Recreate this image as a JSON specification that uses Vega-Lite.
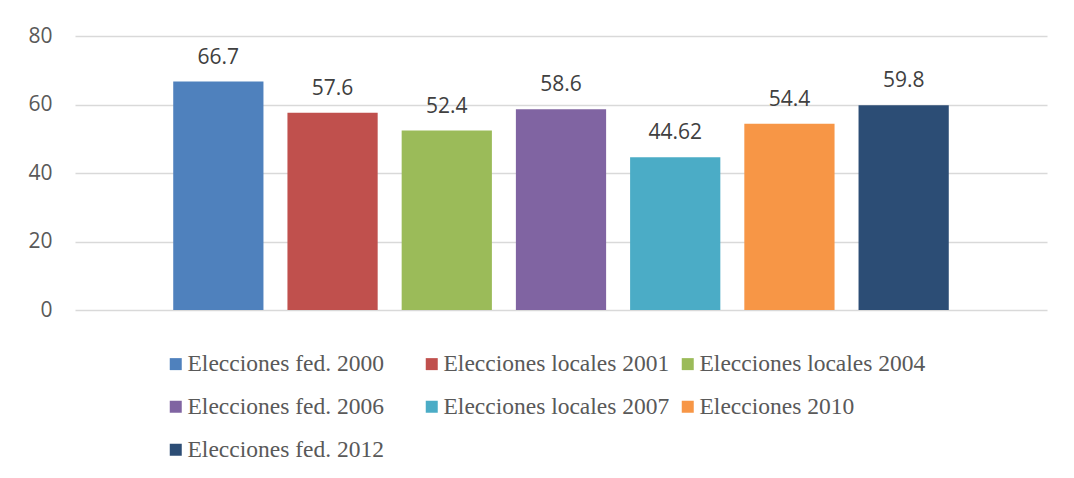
{
  "$schema": "https://vega.github.io/schema/vega-lite/v6.json",
  "width": 972,
  "height": 274,
  "autosize": "none",
  "padding": {"left": 75, "top": 36, "right": 27, "bottom": 168},
  "background": "white",
  "data": {
    "values": [
      {"serie": "Elecciones fed. 2000", "orden": 1, "valor": 66.7, "etiqueta": "66.7"},
      {"serie": "Elecciones locales 2001", "orden": 2, "valor": 57.6, "etiqueta": "57.6"},
      {"serie": "Elecciones locales 2004", "orden": 3, "valor": 52.4, "etiqueta": "52.4"},
      {"serie": "Elecciones fed. 2006", "orden": 4, "valor": 58.6, "etiqueta": "58.6"},
      {"serie": "Elecciones locales 2007", "orden": 5, "valor": 44.62, "etiqueta": "44.62"},
      {"serie": "Elecciones 2010", "orden": 6, "valor": 54.4, "etiqueta": "54.4"},
      {"serie": "Elecciones fed. 2012", "orden": 7, "valor": 59.8, "etiqueta": "59.8"}
    ]
  },
  "encoding": {
    "x": {
      "field": "serie",
      "type": "nominal",
      "sort": {"field": "orden"},
      "axis": null,
      "scale": {"paddingInner": 0.21, "paddingOuter": 0.86}
    },
    "y": {
      "field": "valor",
      "type": "quantitative",
      "scale": {"domain": [0, 80], "nice": false},
      "axis": {
        "title": null,
        "values": [0, 20, 40, 60, 80],
        "domain": false,
        "ticks": false,
        "labelPadding": 23,
        "labelFont": "Open Sans",
        "labelFontSize": 21,
        "labelColor": "#595959",
        "gridColor": "#D9D9D9",
        "gridWidth": 1.3
      }
    }
  },
  "layer": [
    {
      "mark": {"type": "bar"},
      "encoding": {
        "color": {
          "field": "serie",
          "type": "nominal",
          "sort": {"field": "orden"},
          "scale": {
            "domain": [
              "Elecciones fed. 2000",
              "Elecciones locales 2001",
              "Elecciones locales 2004",
              "Elecciones fed. 2006",
              "Elecciones locales 2007",
              "Elecciones 2010",
              "Elecciones fed. 2012"
            ],
            "range": ["#4F81BD", "#C0504D", "#9BBB59", "#8064A2", "#4BACC6", "#F79646", "#2C4D75"]
          },
          "legend": {
            "title": null,
            "orient": "none",
            "legendX": 89,
            "legendY": 316,
            "padding": 0,
            "direction": "horizontal",
            "columns": 3,
            "gridAlign": "all",
            "columnPadding": 6,
            "rowPadding": 18,
            "symbolType": "square",
            "symbolSize": 144,
            "symbolStrokeWidth": 0,
            "labelOffset": 0,
            "labelFont": "Liberation Serif",
            "labelFontSize": 23.5,
            "labelColor": "#595959",
            "labelLimit": 400
          }
        }
      }
    },
    {
      "mark": {
        "type": "text",
        "baseline": "alphabetic",
        "dy": -18,
        "font": "Open Sans",
        "fontSize": 21,
        "color": "#404040"
      },
      "encoding": {
        "text": {"field": "etiqueta"}
      }
    }
  ],
  "config": {
    "view": {"stroke": null}
  }
}
